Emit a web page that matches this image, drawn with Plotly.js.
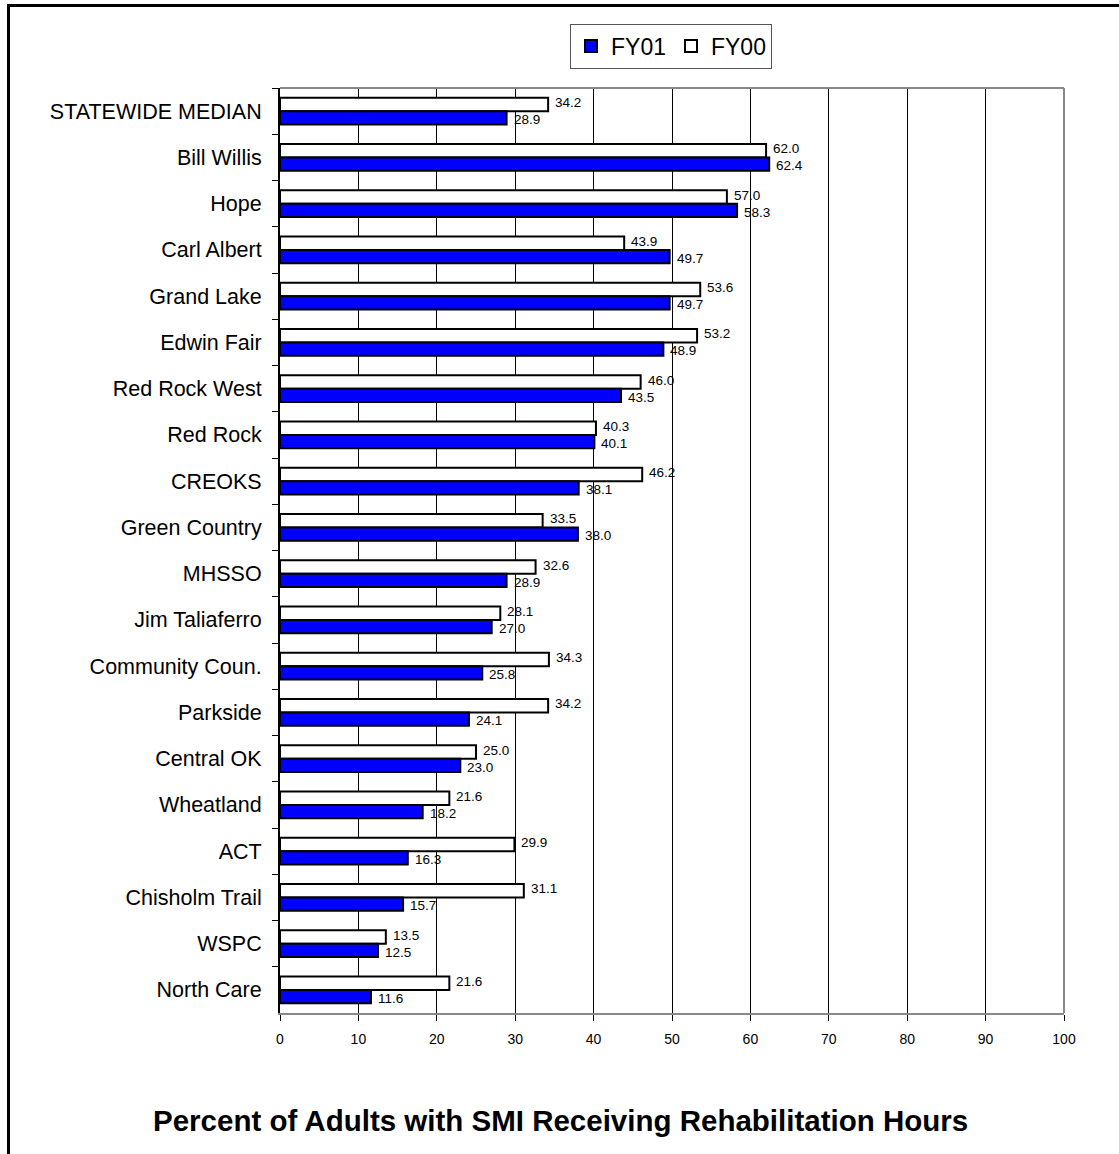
<!DOCTYPE html>
<html>
<head>
<meta charset="utf-8">
<script src="https://cdn.plot.ly/plotly-3.0.1.min.js"></script>
<style>
html,body{margin:0;padding:0;background:#fff;}
#chart{width:1119px;height:1154px;}
</style>
</head>
<body>
<div id="chart"></div>
<script>
const categories = ["STATEWIDE MEDIAN","Bill Willis","Hope","Carl Albert","Grand Lake","Edwin Fair","Red Rock West","Red Rock","CREOKS","Green Country","MHSSO","Jim Taliaferro","Community Coun.","Parkside","Central OK","Wheatland","ACT","Chisholm Trail","WSPC","North Care"];
const fy00 = [34.2,62.0,57.0,43.9,53.6,53.2,46.0,40.3,46.2,33.5,32.6,28.1,34.3,34.2,25.0,21.6,29.9,31.1,13.5,21.6];
const fy01 = [28.9,62.4,58.3,49.7,49.7,48.9,43.5,40.1,38.1,38.0,28.9,27.0,25.8,24.1,23.0,18.2,16.3,15.7,12.5,11.6];
const xTicks = [0,10,20,30,40,50,60,70,80,90,100];
const titleText = "Percent of Adults with SMI Receiving Rehabilitation Hours";

const FONT = "Liberation Sans, Arial, sans-serif";

const traces = [
  {
    type: "bar", orientation: "h", name: "FY00",
    y: categories, x: fy00,
    marker: {color: "#ffffff", line: {color: "#000000", width: 2}},
    hoverinfo: "x+y"
  },
  {
    type: "bar", orientation: "h", name: "FY01",
    y: categories, x: fy01,
    marker: {color: "#0000ff", line: {color: "#000000", width: 2}},
    hoverinfo: "x+y"
  }
];

function valueLabels(vals, shift){
  return vals.map((v, i) => ({
    text: v.toFixed(1), x: v, y: categories[i], xref: "x", yref: "y",
    xanchor: "left", yanchor: "middle", xshift: 6, yshift: shift,
    showarrow: false, borderpad: 0,
    font: {family: FONT, size: 13.5, color: "#000"}
  }));
}

const W = 784, H = 925, L = 280, T = 88;
function px(x){ return (x - L) / W; }
function py(y){ return (T + H - y) / H; }

const layout = {
  width: 1119, height: 1154,
  margin: {l: L, r: 1119 - L - W, t: T, b: 1154 - T - H},
  paper_bgcolor: "#fff", plot_bgcolor: "#fff",
  font: {family: FONT, color: "#000"},
  barmode: "group", bargap: 0.42, bargroupgap: 0,
  showlegend: true,
  legend: {
    orientation: "h", x: px(671), y: py(46), xanchor: "center", yanchor: "middle",
    traceorder: "reversed",
    font: {family: FONT, size: 23, color: "#000"},
    bordercolor: "#555", borderwidth: 1, bgcolor: "#fff",
    itemwidth: 30
  },
  xaxis: {
    range: [0, 100], tickvals: xTicks, ticktext: xTicks.map(String),
    showgrid: true, gridcolor: "#000", gridwidth: 1,
    zeroline: false, showline: true, linecolor: "#888", linewidth: 2,
    ticks: "outside", ticklen: 6, tickcolor: "#000", tickwidth: 1,
    ticklabelstandoff: 6,
    tickfont: {family: FONT, size: 14, color: "#000"},
    fixedrange: true
  },
  yaxis: {
    autorange: "reversed", type: "category",
    showgrid: false, zeroline: false,
    showline: true, linecolor: "#000", linewidth: 2,
    ticks: "outside", tickson: "boundaries", ticklen: 6, tickcolor: "#000",
    ticklabelstandoff: 12,
    tickfont: {family: FONT, size: 21.5, color: "#000"},
    fixedrange: true
  },
  shapes: [
    {type: "line", xref: "paper", yref: "paper", x0: 0, x1: 1, y0: 1, y1: 1, line: {color: "#888", width: 2}},
    {type: "line", xref: "paper", yref: "paper", x0: 1, x1: 1, y0: 0, y1: 1, line: {color: "#888", width: 2}},
    {type: "line", xref: "paper", yref: "paper", x0: px(8.5), x1: px(8.5), y0: py(4), y1: py(1160), line: {color: "#000", width: 3}},
    {type: "line", xref: "paper", yref: "paper", x0: px(7), x1: px(1125), y0: py(5.5), y1: py(5.5), line: {color: "#000", width: 3}}
  ],
  annotations: [
    {text: "<b>" + titleText + "</b>", xref: "paper", yref: "paper",
     x: px(560), y: py(1120), xanchor: "center", yanchor: "middle", showarrow: false,
     font: {family: FONT, size: 29.5, color: "#000"}}
  ].concat(valueLabels(fy00, 8.5), valueLabels(fy01, -8.5))
};

Plotly.newPlot("chart", traces, layout, {displayModeBar: false, staticPlot: true});
</script>
</body>
</html>
